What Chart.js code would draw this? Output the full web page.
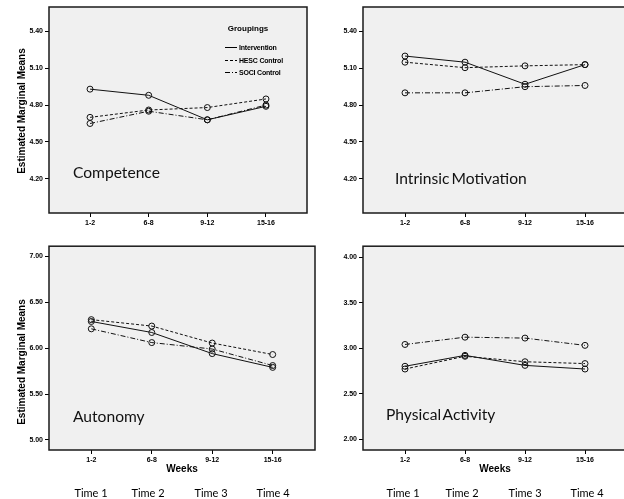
<!DOCTYPE html>
<html>
<head>
<meta charset="utf-8">
<script src="https://cdn.jsdelivr.net/npm/chart.js@4.4.1/dist/chart.umd.min.js"></script>
<style>
  html, body { margin: 0; padding: 0; background: #fff; width: 624px; height: 499px; overflow: hidden; }
  canvas { position: absolute; }
  .txt { position: absolute; white-space: nowrap; line-height: 1; color: #111; }
  .name { font-family: Lato, "Open Sans", sans-serif; font-size: 15.6px; word-spacing: -2px; transform: translateY(-50%); }
  .time { font-family: Lato, "Open Sans", sans-serif; font-size: 11px; transform: translate(-50%, -50%); color: #000; }
  .ytitle { font-family: "Liberation Sans", Arial, sans-serif; font-weight: bold; font-size: 10px;
            transform: translate(-50%, -50%) rotate(-90deg); color: #000; }
  .leg { font-family: "Liberation Sans", Arial, sans-serif; font-weight: bold; font-size: 7px; letter-spacing: -0.2px; color: #000; }
  .leg-title { font-size: 8px; letter-spacing: 0; transform: translate(-50%, -50%); }
  .leg-item { transform: translateY(-50%); display: flex; align-items: center; }
  .leg-item svg { margin-right: 1px; }
</style>
</head>
<body>

<canvas id="cComp" width="312" height="240" style="left:0;top:0"></canvas>
<canvas id="cIntr" width="320" height="240" style="left:312px;top:0"></canvas>
<canvas id="cAuto" width="320" height="259" style="left:0;top:240px"></canvas>
<canvas id="cPhys" width="320" height="259" style="left:312px;top:240px"></canvas>

<div class="txt name" style="left:73px;top:173px">Competence</div>
<div class="txt name" style="left:395px;top:179px">Intrinsic Motivation</div>
<div class="txt name" style="left:73px;top:417px">Autonomy</div>
<div class="txt name" style="left:386px;top:415px">Physical Activity</div>

<div class="txt ytitle" style="left:22px;top:111px">Estimated Marginal Means</div>
<div class="txt ytitle" style="left:22px;top:362px">Estimated Marginal Means</div>

<div class="txt leg leg-title" style="left:248px;top:29px">Groupings</div>
<div class="txt leg leg-item" style="left:225px;top:47px">
  <svg width="13" height="4"><line x1="0" y1="2" x2="12" y2="2" stroke="#000" stroke-width="1"/></svg>Intervention</div>
<div class="txt leg leg-item" style="left:225px;top:60px">
  <svg width="13" height="4"><line x1="0" y1="2" x2="12" y2="2" stroke="#000" stroke-width="1" stroke-dasharray="3,2"/></svg>HESC Control</div>
<div class="txt leg leg-item" style="left:225px;top:72px">
  <svg width="13" height="4"><line x1="0" y1="2" x2="12" y2="2" stroke="#000" stroke-width="1" stroke-dasharray="5,2,1,2"/></svg>SOCI Control</div>

<div class="txt time" style="left:91px;top:492px">Time 1</div>
<div class="txt time" style="left:148px;top:492px">Time 2</div>
<div class="txt time" style="left:211px;top:492px">Time 3</div>
<div class="txt time" style="left:273px;top:492px">Time 4</div>
<div class="txt time" style="left:403px;top:492px">Time 1</div>
<div class="txt time" style="left:462px;top:492px">Time 2</div>
<div class="txt time" style="left:525px;top:492px">Time 3</div>
<div class="txt time" style="left:587px;top:492px">Time 4</div>

<script>
// ---------------- data
const weeks = ["1-2", "6-8", "9-12", "15-16"];
const groups = ["Intervention", "HESC Control", "SOCI Control"];

const competenceInt  = [4.93, 4.88, 4.68, 4.79];
const competenceHesc = [4.70, 4.76, 4.78, 4.85];
const competenceSoci = [4.65, 4.75, 4.68, 4.80];

const intrinsicInt  = [5.20, 5.15, 4.97, 5.13];
const intrinsicHesc = [5.15, 5.105, 5.12, 5.13];
const intrinsicSoci = [4.90, 4.90, 4.95, 4.96];

const autonomyInt  = [6.29, 6.17, 5.94, 5.79];
const autonomyHesc = [6.31, 6.24, 6.055, 5.93];
const autonomySoci = [6.21, 6.06, 5.99, 5.81];

const activityInt  = [2.80, 2.92, 2.81, 2.77];
const activityHesc = [2.77, 2.91, 2.85, 2.83];
const activitySoci = [3.04, 3.12, 3.11, 3.03];

const motivationTicks = [4.20, 4.50, 4.80, 5.10, 5.40];
const autonomyTicks   = [5.00, 5.50, 6.00, 6.50, 7.00];
const activityTicks   = [2.00, 2.50, 3.00, 3.50, 4.00];

// ---------------- styles
const dashes = [[], [3, 2], [5, 2, 1, 2]];
const tickFont = { family: "'Liberation Sans', Arial, sans-serif", size: 7, weight: "bold" };

// gray plot area + black frame, like SPSS output
const plotFrame = {
  id: "plotFrame",
  beforeDraw(chart) {
    const { ctx, chartArea: a } = chart;
    ctx.save();
    ctx.fillStyle = "#f0f0f0";
    ctx.fillRect(a.left, a.top, a.right - a.left, a.bottom - a.top);
    ctx.restore();
  },
  afterDraw(chart) {
    const { ctx, chartArea: a } = chart;
    ctx.save();
    ctx.strokeStyle = "#1a1a1a";
    ctx.lineWidth = 1.5;
    ctx.strokeRect(a.left, a.top, a.right - a.left, a.bottom - a.top);
    ctx.restore();
  }
};

function makeChart(id, series, yTicks, yMin, yMax, box) {
  const ctx = document.getElementById(id).getContext("2d");

  const datasets = series.map((vals, g) => ({
    label: groups[g],
    data: vals.map((v, i) => ({ x: i, y: v })),
    borderColor: "#111",
    borderWidth: 1,
    borderDash: dashes[g],
    pointRadius: 3,
    pointBorderWidth: 1,
    pointBorderColor: "#111",
    pointBackgroundColor: "rgba(0,0,0,0)",
    tension: 0
  }));

  return new Chart(ctx, {
    type: "line",
    data: { datasets },
    plugins: [plotFrame],
    options: {
      responsive: false,
      animation: false,
      devicePixelRatio: 1,
      layout: { padding: { left: 0, top: box.top, right: box.right, bottom: 0 } },
      plugins: { legend: { display: false }, tooltip: { enabled: false } },
      scales: {
        x: {
          type: "linear",
          min: -0.7,
          max: 3.7,
          afterBuildTicks: s => { s.ticks = weeks.map((w, i) => ({ value: i })); },
          afterFit: s => { s.height = box.xHeight; },
          ticks: { font: tickFont, color: "#000", padding: 2, maxRotation: 0,
                   callback: v => weeks[v] },
          grid: { drawOnChartArea: false, tickLength: 4, color: "#000" },
          border: { display: false },
          title: {
            display: box.weeks,
            text: "Weeks",
            color: "#000",
            font: { family: "'Liberation Sans', Arial, sans-serif", size: 10, weight: "bold" },
            padding: { top: 0, bottom: 24 }
          }
        },
        y: {
          min: yMin,
          max: yMax,
          afterBuildTicks: s => { s.ticks = yTicks.map(v => ({ value: v })); },
          afterFit: s => { s.width = box.yWidth; },
          ticks: { font: tickFont, color: "#000", padding: 2,
                   callback: v => Number(v).toFixed(2) },
          grid: { drawOnChartArea: false, tickLength: 4, color: "#000" },
          border: { display: false }
        }
      }
    }
  });
}

makeChart("cComp", [competenceInt, competenceHesc, competenceSoci], motivationTicks, 3.92, 5.6,
  { top: 7, right: 2, xHeight: 27, yWidth: 49, weeks: false });
makeChart("cIntr", [intrinsicInt, intrinsicHesc, intrinsicSoci], motivationTicks, 3.92, 5.6,
  { top: 7, right: 5, xHeight: 27, yWidth: 51, weeks: false });
makeChart("cAuto", [autonomyInt, autonomyHesc, autonomySoci], autonomyTicks, 4.89, 7.11,
  { top: 5, right: 4, xHeight: 49, yWidth: 49, weeks: true });
makeChart("cPhys", [activityInt, activityHesc, activitySoci], activityTicks, 1.88, 4.12,
  { top: 5, right: 5, xHeight: 49, yWidth: 51, weeks: true });
</script>
</body>
</html>
